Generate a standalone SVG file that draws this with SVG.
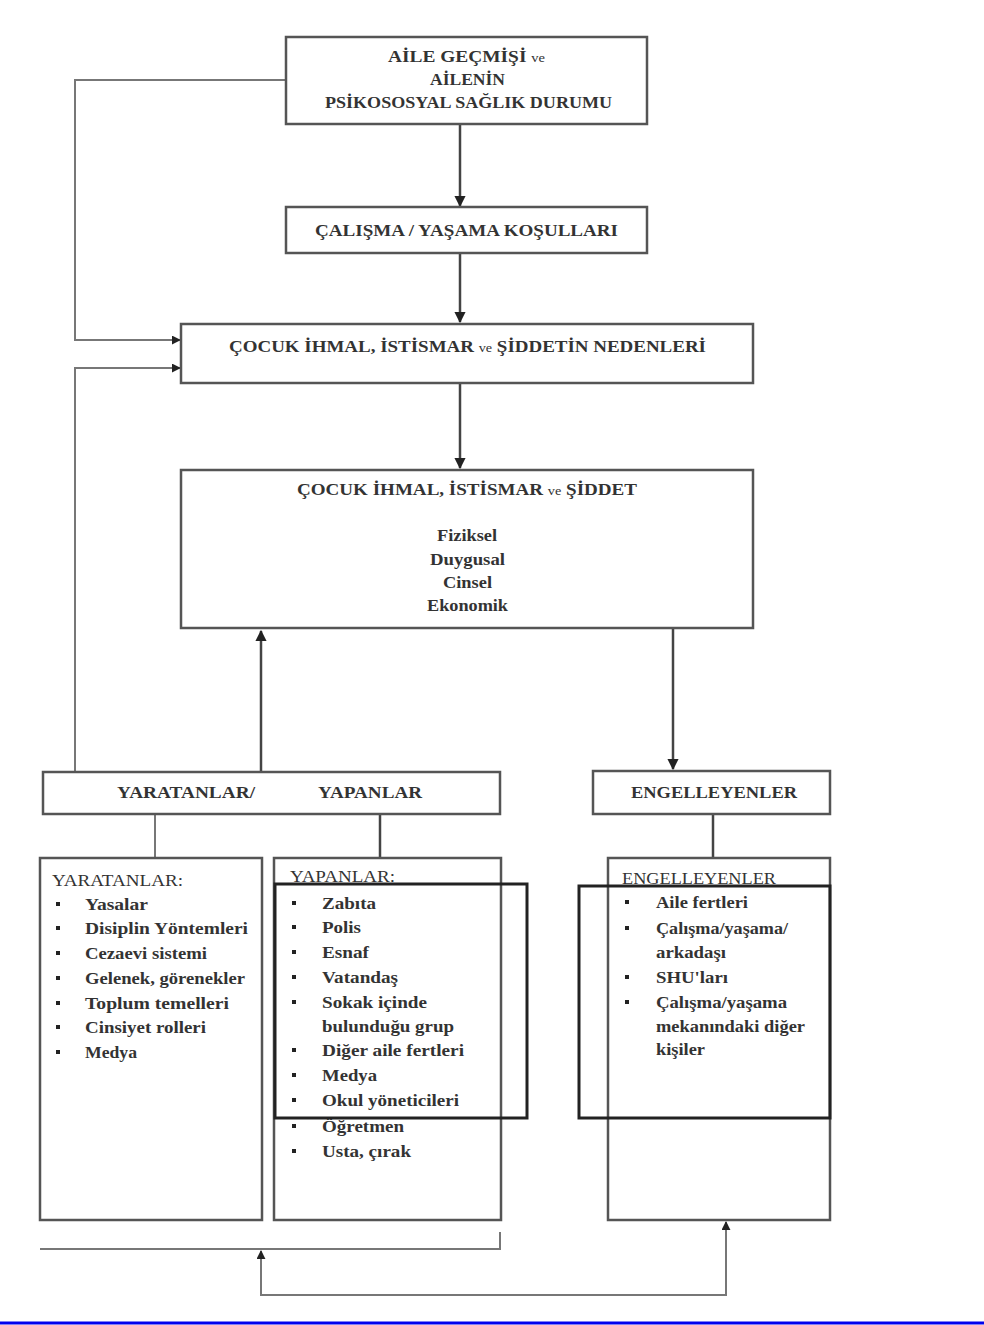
<svg xmlns="http://www.w3.org/2000/svg" width="984" height="1325" viewBox="0 0 984 1325">
<style>
.box{fill:#fff;stroke:#555;stroke-width:2.5}
.thick{fill:none;stroke:#222;stroke-width:3}
.t{font-family:"Liberation Serif","Times New Roman",serif;font-size:16px;fill:#333}
.b{font-weight:bold}
.c{text-anchor:middle}
.sm{font-size:12px;font-weight:normal}
.line{fill:none;stroke:#444;stroke-width:2.5}
.thin{fill:none;stroke:#777;stroke-width:2}
.dot{fill:#222}
</style>
<defs>
<marker id="ah" viewBox="0 0 10 10" refX="9" refY="5" markerWidth="4.5" markerHeight="4.5" orient="auto">
<path d="M0,0 L10,5 L0,10 z" fill="#222"/>
</marker>
</defs>
<rect x="0" y="0" width="984" height="1325" fill="#fff"/>

<g id="connectors">
<line class="line" x1="460" y1="124" x2="460" y2="206" marker-end="url(#ah)"/>
<line class="line" x1="460" y1="253" x2="460" y2="322" marker-end="url(#ah)"/>
<line class="line" x1="460" y1="383" x2="460" y2="468" marker-end="url(#ah)"/>
<polyline class="thin" points="286,80 75,80 75,340 180,340" marker-end="url(#ah)"/>
<polyline class="thin" points="75,772 75,368 180,368" marker-end="url(#ah)"/>
<line class="line" x1="261" y1="772" x2="261" y2="631" marker-end="url(#ah)"/>
<line class="line" x1="673" y1="628" x2="673" y2="769" marker-end="url(#ah)"/>
<line class="thin" x1="155" y1="814" x2="155" y2="858"/>
<line class="line" x1="380" y1="814" x2="380" y2="858"/>
<line class="line" x1="713" y1="814" x2="713" y2="858"/>
<polyline class="thin" points="40,1249 500,1249 500,1232"/>
<polyline class="thin" points="261,1296 261,1251" marker-end="url(#ah)"/>
<polyline class="thin" points="261,1295 726,1295 726,1222" marker-end="url(#ah)"/>
</g>

<g id="node-aile">
<rect class="box" x="286" y="37" width="361" height="87"/>
<text class="t b" x="388" y="62" textLength="157" lengthAdjust="spacingAndGlyphs">AİLE GEÇMİŞİ <tspan class="sm">ve</tspan></text>
<text class="t b" x="430" y="85" textLength="75" lengthAdjust="spacingAndGlyphs">AİLENİN</text>
<text class="t b" x="325" y="108" textLength="287" lengthAdjust="spacingAndGlyphs">PSİKOSOSYAL SAĞLIK DURUMU</text>
</g>

<g id="node-kosullar">
<rect class="box" x="286" y="207" width="361" height="46"/>
<text class="t" x="315" y="236" style="font-weight:600" textLength="303" lengthAdjust="spacingAndGlyphs">ÇALIŞMA / YAŞAMA KOŞULLARI</text>
</g>

<g id="node-nedenler">
<rect class="box" x="181" y="324" width="572" height="59"/>
<text class="t b" x="229" y="352" textLength="477" lengthAdjust="spacingAndGlyphs">ÇOCUK İHMAL, İSTİSMAR <tspan class="sm">ve</tspan> ŞİDDETİN NEDENLERİ</text>
</g>

<g id="node-siddet">
<rect class="box" x="181" y="470" width="572" height="158"/>
<text class="t b" x="297" y="495" textLength="340" lengthAdjust="spacingAndGlyphs">ÇOCUK İHMAL, İSTİSMAR <tspan class="sm">ve</tspan> ŞİDDET</text>
<text class="t b" x="437" y="541" textLength="60" lengthAdjust="spacingAndGlyphs">Fiziksel</text>
<text class="t b" x="430" y="565" textLength="75" lengthAdjust="spacingAndGlyphs">Duygusal</text>
<text class="t b" x="443" y="588" textLength="49" lengthAdjust="spacingAndGlyphs">Cinsel</text>
<text class="t b" x="427" y="611" textLength="81" lengthAdjust="spacingAndGlyphs">Ekonomik</text>
</g>

<g id="node-yaratanlar-yapanlar">
<rect class="box" x="43" y="772" width="457" height="42"/>
<text class="t" x="117" y="798" style="font-weight:600" textLength="138" lengthAdjust="spacingAndGlyphs">YARATANLAR/</text>
<text class="t" x="318" y="798" style="font-weight:600" textLength="104" lengthAdjust="spacingAndGlyphs">YAPANLAR</text>
</g>

<g id="node-engelleyenler">
<rect class="box" x="593" y="771" width="237" height="43"/>
<text class="t" x="631" y="798" style="font-weight:600" textLength="166" lengthAdjust="spacingAndGlyphs">ENGELLEYENLER</text>
</g>

<g id="node-yaratanlar-list">
<rect class="box" x="40" y="858" width="222" height="362"/>
<text class="t" x="52" y="886" textLength="131" lengthAdjust="spacingAndGlyphs">YARATANLAR:</text>
<g class="t b">
<text x="85" y="910" textLength="63" lengthAdjust="spacingAndGlyphs">Yasalar</text>
<text x="85" y="934" textLength="163" lengthAdjust="spacingAndGlyphs">Disiplin Yöntemleri</text>
<text x="85" y="959" textLength="122" lengthAdjust="spacingAndGlyphs">Cezaevi sistemi</text>
<text x="85" y="984" textLength="160" lengthAdjust="spacingAndGlyphs">Gelenek, görenekler</text>
<text x="85" y="1009" textLength="144" lengthAdjust="spacingAndGlyphs">Toplum temelleri</text>
<text x="85" y="1033" textLength="121" lengthAdjust="spacingAndGlyphs">Cinsiyet rolleri</text>
<text x="85" y="1058" textLength="52" lengthAdjust="spacingAndGlyphs">Medya</text>
</g>
<g class="dot">
<rect x="56" y="902" width="4" height="4"/>
<rect x="56" y="926" width="4" height="4"/>
<rect x="56" y="951" width="4" height="4"/>
<rect x="56" y="976" width="4" height="4"/>
<rect x="56" y="1001" width="4" height="4"/>
<rect x="56" y="1025" width="4" height="4"/>
<rect x="56" y="1050" width="4" height="4"/>
</g>
</g>

<g id="node-yapanlar-list">
<rect class="box" x="274" y="858" width="227" height="362"/>
<text class="t" x="290" y="882" style="text-decoration:underline" textLength="105" lengthAdjust="spacingAndGlyphs">YAPANLAR:</text>
<g class="t b">
<text x="322" y="909" textLength="54" lengthAdjust="spacingAndGlyphs">Zabıta</text>
<text x="322" y="933" textLength="39" lengthAdjust="spacingAndGlyphs">Polis</text>
<text x="322" y="958" textLength="47" lengthAdjust="spacingAndGlyphs">Esnaf</text>
<text x="322" y="983" textLength="76" lengthAdjust="spacingAndGlyphs">Vatandaş</text>
<text x="322" y="1008" textLength="105" lengthAdjust="spacingAndGlyphs">Sokak içinde</text>
<text x="322" y="1032" textLength="132" lengthAdjust="spacingAndGlyphs">bulunduğu grup</text>
<text x="322" y="1056" textLength="142" lengthAdjust="spacingAndGlyphs">Diğer aile fertleri</text>
<text x="322" y="1081" textLength="55" lengthAdjust="spacingAndGlyphs">Medya</text>
<text x="322" y="1106" textLength="137" lengthAdjust="spacingAndGlyphs">Okul yöneticileri</text>
<text x="322" y="1132" textLength="82" lengthAdjust="spacingAndGlyphs">Öğretmen</text>
<text x="322" y="1157" textLength="89" lengthAdjust="spacingAndGlyphs">Usta, çırak</text>
</g>
<g class="dot">
<rect x="292" y="901" width="4" height="4"/>
<rect x="292" y="925" width="4" height="4"/>
<rect x="292" y="950" width="4" height="4"/>
<rect x="292" y="975" width="4" height="4"/>
<rect x="292" y="1000" width="4" height="4"/>
<rect x="292" y="1048" width="4" height="4"/>
<rect x="292" y="1073" width="4" height="4"/>
<rect x="292" y="1098" width="4" height="4"/>
<rect x="292" y="1124" width="4" height="4"/>
<rect x="292" y="1149" width="4" height="4"/>
</g>
<rect class="thick" x="275" y="884" width="252" height="234"/>
</g>

<g id="node-engelleyenler-list">
<rect class="box" x="608" y="858" width="222" height="362"/>
<text class="t" x="622" y="884" style="text-decoration:underline" textLength="154" lengthAdjust="spacingAndGlyphs">ENGELLEYENLER</text>
<g class="t b">
<text x="656" y="908" textLength="92" lengthAdjust="spacingAndGlyphs">Aile fertleri</text>
<text x="656" y="934" textLength="132" lengthAdjust="spacingAndGlyphs">Çalışma/yaşama/</text>
<text x="656" y="958" textLength="70" lengthAdjust="spacingAndGlyphs">arkadaşı</text>
<text x="656" y="983" textLength="72" lengthAdjust="spacingAndGlyphs">SHU'ları</text>
<text x="656" y="1008" textLength="131" lengthAdjust="spacingAndGlyphs">Çalışma/yaşama</text>
<text x="656" y="1032" textLength="149" lengthAdjust="spacingAndGlyphs">mekanındaki diğer</text>
<text x="656" y="1055" textLength="49" lengthAdjust="spacingAndGlyphs">kişiler</text>
</g>
<g class="dot">
<rect x="625" y="900" width="4" height="4"/>
<rect x="625" y="926" width="4" height="4"/>
<rect x="625" y="975" width="4" height="4"/>
<rect x="625" y="1000" width="4" height="4"/>
</g>
<rect class="thick" x="579" y="886" width="251" height="232"/>
</g>

<line x1="0" y1="1323" x2="984" y2="1323" stroke="#0000ee" stroke-width="3"/>
</svg>
